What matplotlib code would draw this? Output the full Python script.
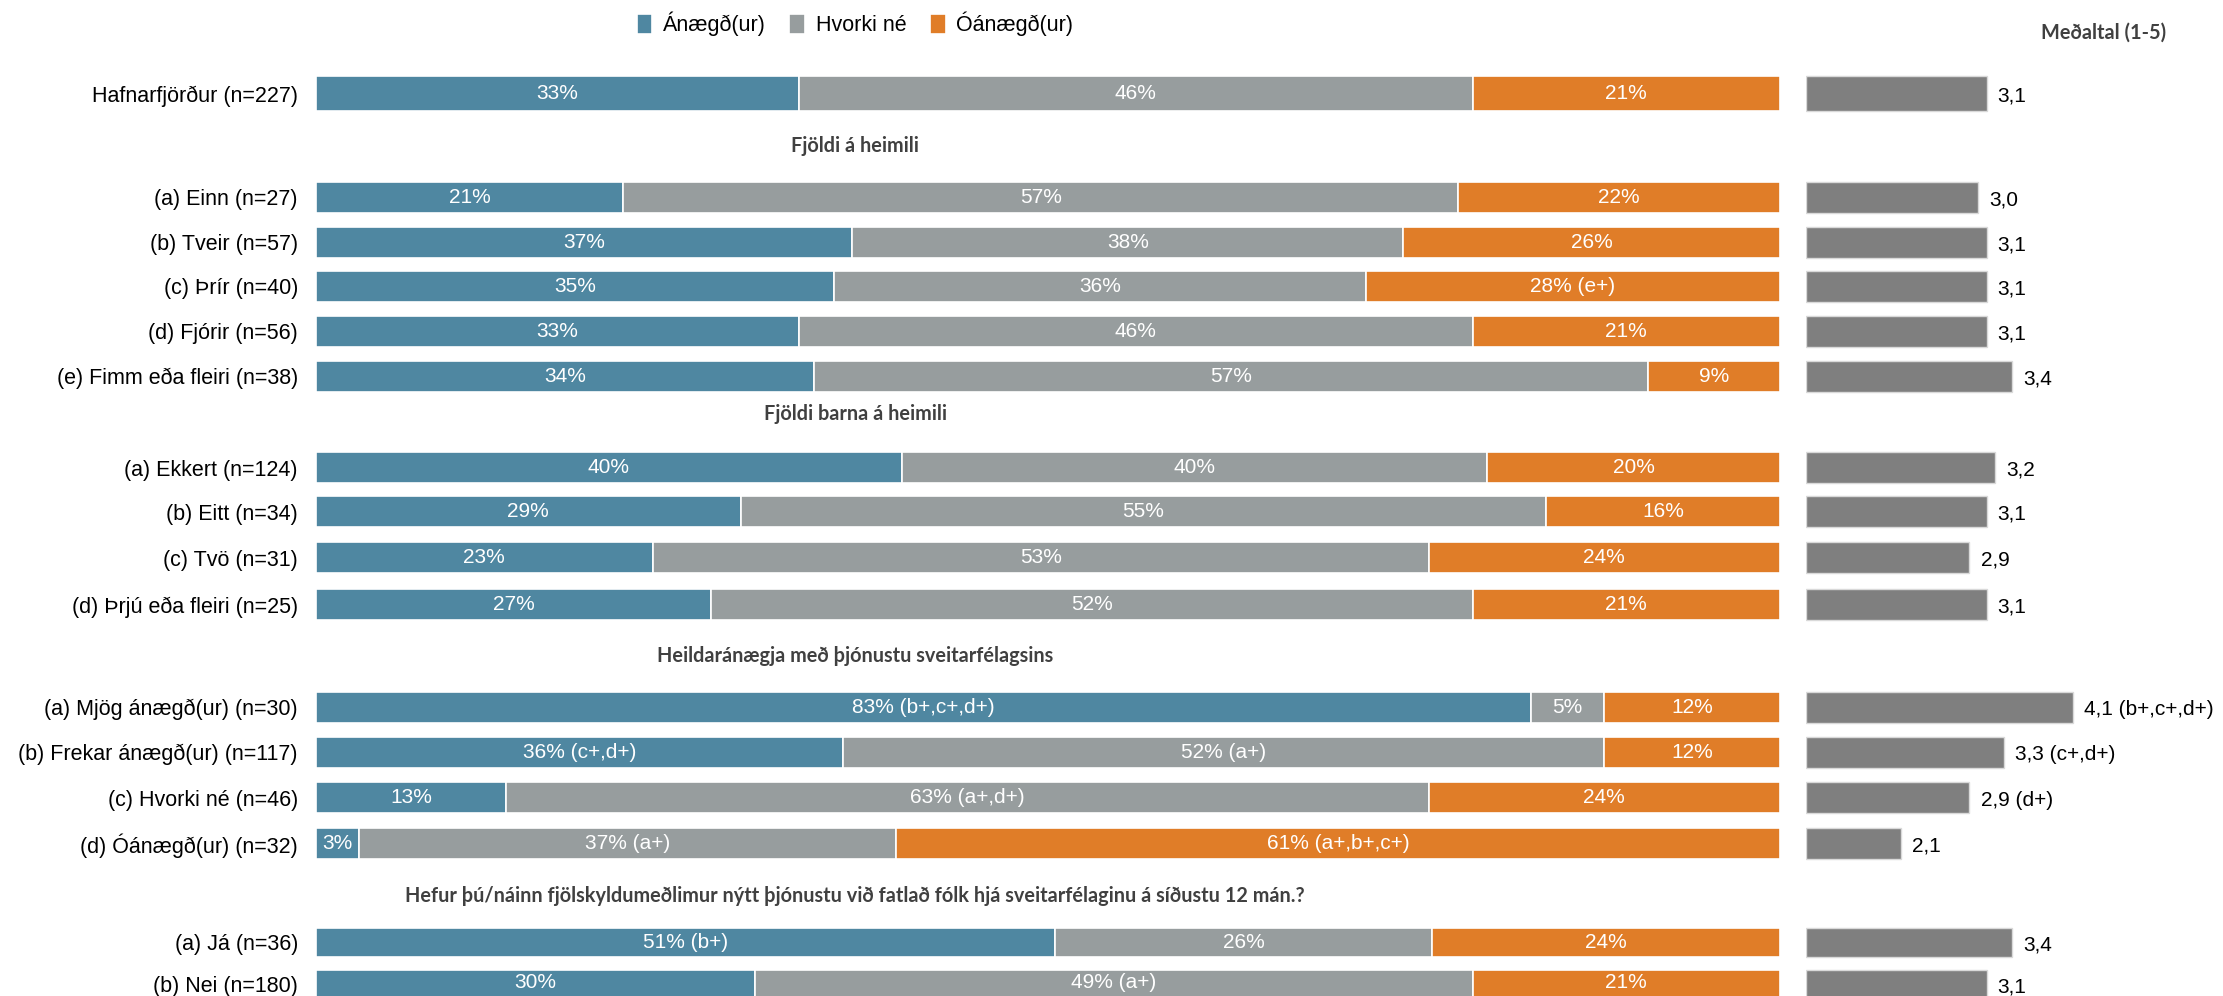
import numpy as np
import matplotlib
matplotlib.use("Agg")
import matplotlib.pyplot as plt

plt.rcParams['font.family'] = ['Liberation Sans', 'DejaVu Sans']

# data
categories = [
    "Hafnarfjörður (n=227)",
    "(a) Einn (n=27)", "(b) Tveir (n=57)", "(c) Þrír (n=40)", "(d) Fjórir (n=56)",
    "(e) Fimm eða fleiri (n=38)",
    "(a) Ekkert (n=124)", "(b) Eitt (n=34)", "(c) Tvö (n=31)", "(d) Þrjú eða fleiri (n=25)",
    "(a) Mjög ánægð(ur) (n=30)", "(b) Frekar ánægð(ur) (n=117)", "(c) Hvorki né (n=46)",
    "(d) Óánægð(ur) (n=32)",
    "(a) Já (n=36)", "(b) Nei (n=180)",
]
satisfied = [33, 21, 37, 35, 33, 34, 40, 29, 23, 27, 83, 36, 13, 3, 51, 30]
neutral = [46, 57, 38, 36, 46, 57, 40, 55, 53, 52, 5, 52, 63, 37, 26, 49]
dissatisfied = [21, 22, 26, 28, 21, 9, 20, 16, 24, 21, 12, 12, 24, 61, 24, 21]

satisfied_sig = ["", "", "", "", "", "", "", "", "", "", "(b+,c+,d+)", "(c+,d+)", "", "", "(b+)", ""]
neutral_sig = ["", "", "", "", "", "", "", "", "", "", "", "(a+)", "(a+,d+)", "(a+)", "", "(a+)"]
dissatisfied_sig = ["", "", "", "(e+)", "", "", "", "", "", "", "", "", "", "(a+,b+,c+)", "", ""]

means = [3.1, 3.0, 3.1, 3.1, 3.1, 3.4, 3.2, 3.1, 2.9, 3.1, 4.1, 3.3, 2.9, 2.1, 3.4, 3.1]
means_sig = ["", "", "", "", "", "", "", "", "", "", "(b+,c+,d+)", "(c+,d+)", "(d+)", "", "", ""]

series_names = ["Ánægð(ur)", "Hvorki né", "Óánægð(ur)"]
section_titles = [
    "Fjöldi á heimili",
    "Fjöldi barna á heimili",
    "Heildaránægja með þjónustu sveitarfélagsins",
    "Hefur þú/náinn fjölskyldumeðlimur nýtt þjónustu við fatlað fólk hjá sveitarfélaginu á síðustu 12 mán.?",
]

# layout (pixels from top of the 2223x996 image)
W, H = 2223, 996
row_y = [93.5, 197, 242, 286, 331, 376, 467.5, 511.5, 557.5, 604.5,
         707, 752, 797.5, 843.5, 942, 984]
row_h = [35, 31, 31, 31, 31, 31, 31, 31, 31, 31, 31, 31, 31, 31, 29, 29]
title_y = [146, 414, 656, 896]

colors = ["#4F87A1", "#979D9E", "#E07D28"]
mean_color = "#7F7F7F"

fig = plt.figure(figsize=(W / 100, H / 100), dpi=100)

ax = fig.add_axes([316 / W, 0, (1780 - 316) / W, 1])
axm = fig.add_axes([1806 / W, 0, (2150 - 1806) / W, 1])

vals = np.array([satisfied, neutral, dissatisfied], dtype=float)
widths = vals / vals.sum(axis=0) * 100
sigs = [satisfied_sig, neutral_sig, dissatisfied_sig]

left = np.zeros(len(categories))
handles = []
for i in range(3):
    bars = ax.barh(row_y, widths[i], left=left, height=row_h, color=colors[i],
                   edgecolor="white", linewidth=1.2, label=series_names[i])
    labels = []
    for v, s in zip(vals[i], sigs[i]):
        t = f"{int(v)}%"
        if s:
            t += " " + s
        labels.append(t)
    ax.bar_label(bars, labels=labels, label_type="center", color="white", fontsize=15)
    handles.append(bars)
    left += widths[i]

ax.set_xlim(0, 100)
ax.set_ylim(H, 0)
ax.set_yticks(row_y)
ax.set_yticklabels(categories, fontsize=15.5)
ax.tick_params(axis="y", length=0, pad=13)
ax.set_xticks([])
for sp in ax.spines.values():
    sp.set_visible(False)

# mean bars
mb = axm.barh(row_y, np.array(means) - 1, left=1, height=row_h, color=mean_color,
              edgecolor="#D9D9D9", linewidth=1)
for m, s, y in zip(means, means_sig, row_y):
    t = f"{m:.1f}".replace(".", ",")
    if s:
        t += " " + s
    axm.annotate(t, (m, y), xytext=(8, -2), textcoords="offset points",
                 va="center", ha="left", fontsize=15, color="black")
axm.set_xlim(1, 5)
axm.set_ylim(H, 0)
axm.axis("off")

# section titles
for t, y in zip(section_titles, title_y):
    fig.text(855 / W, 1 - y / H, t, ha="center", va="center", fontsize=14.3,
             fontweight="bold", color="#404040", family=["Lato", "DejaVu Sans"])

fig.text(2104 / W, 1 - 33 / H, "Meðaltal (1-5)", ha="center", va="center", fontsize=14.3,
         fontweight="bold", color="#404040", family=["Lato", "DejaVu Sans"])

fig.legend(handles=handles, labels=series_names, loc="center",
           bbox_to_anchor=(855 / W, 1 - 24 / H), ncol=3, frameon=False,
           fontsize=15.5, handlelength=0.72, handleheight=1.06,
           handletextpad=0.5, columnspacing=1.1)

fig.savefig("out.png", dpi=100)
